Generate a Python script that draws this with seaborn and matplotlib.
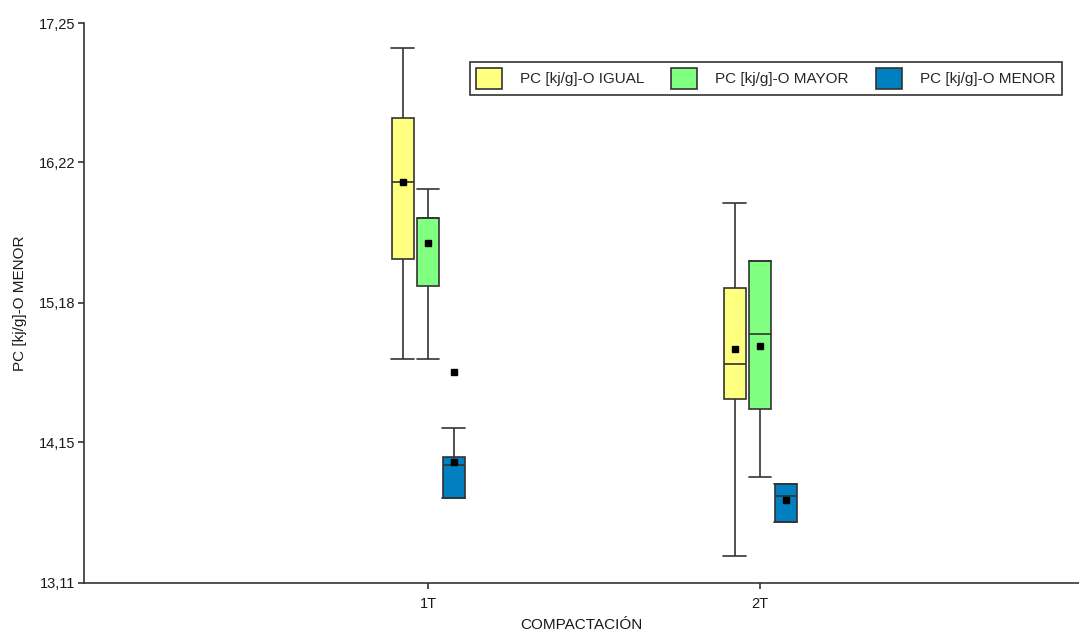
import numpy as np
import pandas as pd
import matplotlib
matplotlib.use("Agg")
import matplotlib.pyplot as plt
import seaborn as sns

# categories and series
compactacion = ['1T', '2T']
series = ['PC [kj/g]-O IGUAL', 'PC [kj/g]-O MAYOR', 'PC [kj/g]-O MENOR']
colores = ['#FFFF80', '#80FF80', '#0080C0']

igual_1t = [14.766, 15.35, 15.505, 16.00, 16.077, 16.50, 16.546, 16.867, 17.064]
mayor_1t = [14.766, 15.30, 15.306, 15.80, 15.807, 15.807, 15.807, 16.02, 16.021]
menor_1t = [13.735, 13.735, 13.735, 13.735, 13.95, 13.97, 13.981,
            14.02, 14.04, 14.043, 14.183, 14.253, 14.672]
igual_2t = [13.310, 14.30, 14.468, 14.60, 14.727, 15.20, 15.293, 15.74, 15.922]
mayor_2t = [13.895, 14.10, 14.398, 14.70, 14.948, 15.256, 15.493, 15.493, 15.493]
menor_2t = [13.562, 13.562, 13.562, 13.73, 13.754, 13.811, 13.839, 13.839, 13.839]

y_ticks = [13.11, 14.15, 15.18, 16.22, 17.25]
y_tick_labels = ['13,11', '14,15', '15,18', '16,22', '17,25']

groups = {
    ('1T', series[0]): igual_1t, ('1T', series[1]): mayor_1t, ('1T', series[2]): menor_1t,
    ('2T', series[0]): igual_2t, ('2T', series[1]): mayor_2t, ('2T', series[2]): menor_2t,
}
rows = []
for (cat, ser), vals in groups.items():
    for v in vals:
        rows.append({'COMPACTACION': cat, 'serie': ser, 'valor': v})
df = pd.DataFrame(rows)

sns.set_theme(style='ticks')
plt.rcParams['font.family'] = ['Liberation Sans', 'DejaVu Sans']

fig = plt.figure(figsize=(10.79, 6.35), dpi=100)
ax = fig.add_axes([0.0779, 0.0822, 0.9221, 0.8813])

line_c = '#333333'
sns.boxplot(data=df, x='COMPACTACION', y='valor', hue='serie',
            order=compactacion, hue_order=series, palette=colores,
            saturation=1, width=0.23, gap=0.14, linewidth=1.2, linecolor=line_c,
            whis=1.5, showmeans=True, capwidths=0.068,
            meanprops=dict(marker='s', markerfacecolor='black',
                           markeredgecolor='black', markersize=4.5),
            flierprops=dict(marker='s', markerfacecolor='black',
                            markeredgecolor='black', markersize=4),
            ax=ax)

ax.set_xlim(-1.036, 1.96)
ax.set_ylim(13.11, 17.25)
ax.set_yticks(y_ticks)
ax.set_yticklabels(y_tick_labels)
sns.despine(ax=ax)
for side in ['left', 'bottom']:
    ax.spines[side].set_color(line_c)
    ax.spines[side].set_linewidth(1.2)
ax.tick_params(axis='both', colors=line_c, labelcolor='#1a1a1a',
               labelsize=10.5, length=4, width=1.2, pad=2)
ax.tick_params(axis='x', pad=6)

ax.set_xlabel('COMPACTACIÓN', fontsize=11, color='#1a1a1a', labelpad=5)
ax.set_ylabel('PC [kj/g]-O MENOR', fontsize=11, color='#1a1a1a', labelpad=9)

handles, labels = ax.get_legend_handles_labels()
if ax.get_legend() is not None:
    ax.get_legend().remove()
leg = ax.legend(handles, labels, ncol=3, loc='center',
                bbox_to_anchor=(0.7095, 0.8764), bbox_transform=fig.transFigure,
                fontsize=11, frameon=True, fancybox=False, edgecolor='black',
                handlelength=1.7, handleheight=1.75, handletextpad=1.2,
                columnspacing=1.75, borderpad=0.4)
leg.get_frame().set_linewidth(1.2)

fig.savefig('out.png', dpi=100)
